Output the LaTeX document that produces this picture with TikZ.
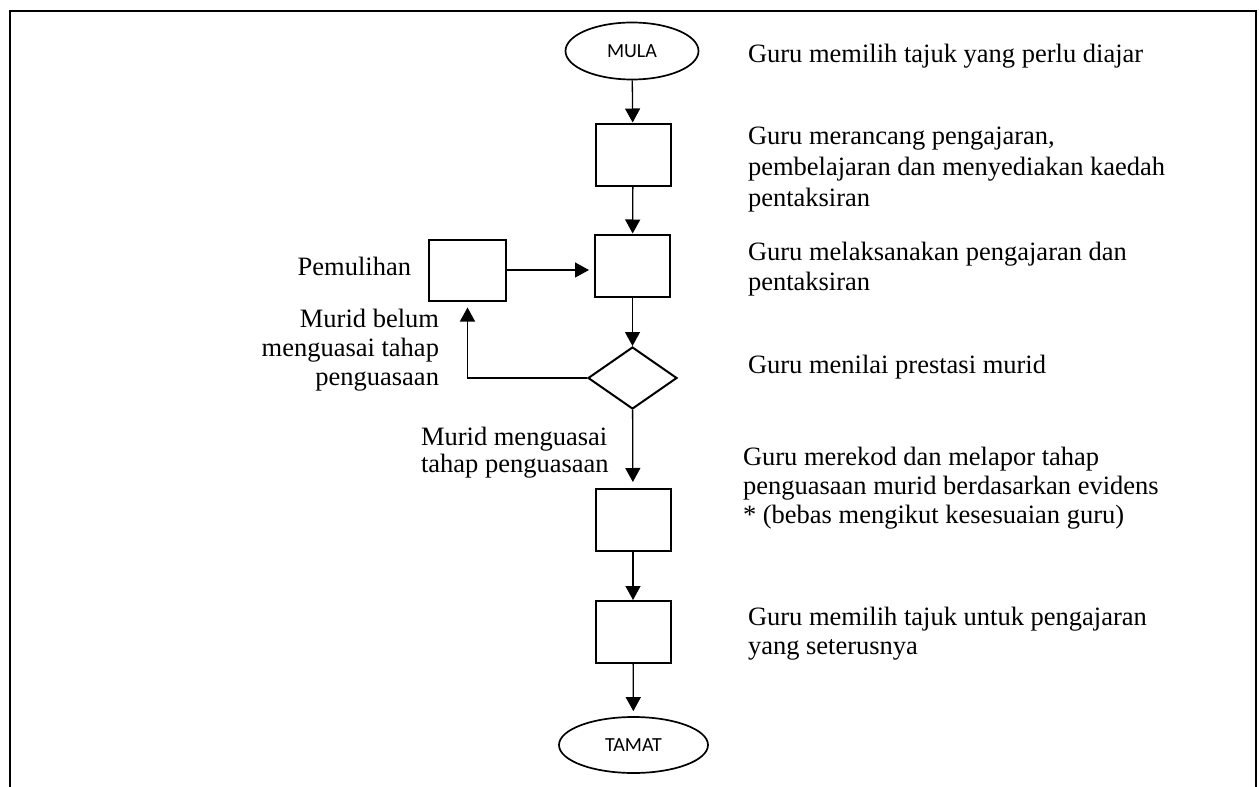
\documentclass[tikz,border=0pt]{standalone}
\usepackage{fontspec}
\setmainfont{Liberation Serif}
\newfontfamily\termfont{Carlito}
\usetikzlibrary{shapes.geometric,arrows.meta}

\tikzset{
  x=1pt, y=-1pt,
  stepbox/.style={draw, line width=2pt, minimum width=75pt, minimum height=62pt, inner sep=0pt},
  terminal/.style={draw, ellipse, line width=1.7pt, inner sep=0pt, font=\termfont\fontsize{20}{24}\selectfont},
  decision/.style={draw, diamond, line width=2pt, minimum width=89pt, minimum height=62pt, inner sep=0pt},
  flow/.style={line width=1.3pt, -{Triangle[length=14pt,width=15pt]}},
  note/.style={inner sep=0pt, outer sep=0pt, font=\fontsize{26.5}{30}\selectfont},
  frame/.style={line width=2.5pt}
}

\begin{document}
\begin{tikzpicture}
\useasboundingbox (0,0) rectangle (1259,787);

% open frame around the flowchart
\coordinate (fbl) at (10,790);
\coordinate (ftl) at (10,11);
\coordinate (ftr) at (1256,11);
\coordinate (fbr) at (1256,790);
\draw[frame] (fbl) -- (ftl) -- (ftr) -- (fbr);

% flowchart nodes
\node[terminal, minimum width=133pt, minimum height=57pt] (mula) at (632,51) {MULA};
\node[stepbox] (plan) at (633,154.5) {};
\node[stepbox] (teach) at (632.5,265.5) {};
\node[stepbox, minimum width=77pt, minimum height=61pt] (remedy) at (467.5,270) {};
\node[decision] (assess) at (632.5,378) {};
\node[stepbox] (record) at (633,520) {};
\node[stepbox] (next) at (633,632) {};
\node[terminal, minimum width=149pt, minimum height=56pt] (tamat) at (633.5,745) {TAMAT};

% connectors
\draw[flow] (mula) -- (plan);
\draw[flow] (plan) -- (teach);
\draw[flow, shorten >=5pt] (remedy.east) -- (remedy.east -| teach.west);
\draw[flow] (teach) -- (assess);
\draw[flow, shorten >=6pt] (assess.west) -| (remedy.south);
\draw[flow, shorten >=6pt] (assess) -- (record);
\draw[flow] (record) -- (next);
\draw[flow, shorten >=5pt] (next) -- (tamat);

% step descriptions (multi-line texts are placed by their last baseline)
\node[note, anchor=base west] (d1) at (748,62) {Guru memilih tajuk yang perlu diajar};
\node[note, anchor=base west, align=left, font=\fontsize{26.5}{31}\selectfont] (d2) at (748,206) {Guru merancang pengajaran,\\pembelajaran dan menyediakan kaedah\\pentaksiran};
\node[note, anchor=base west, align=left] (d3) at (748,290) {Guru melaksanakan pengajaran dan\\pentaksiran};
\node[note, anchor=base west] (d4) at (748,373) {Guru menilai prestasi murid};
\node[note, anchor=base west, align=left, font=\fontsize{26.5}{29}\selectfont] (d5) at (743,523) {Guru merekod dan melapor tahap\\penguasaan murid berdasarkan evidens\\* (bebas mengikut kesesuaian guru)};
\node[note, anchor=base west, align=left, font=\fontsize{26.5}{29}\selectfont] (d6) at (748,654) {Guru memilih tajuk untuk pengajaran\\yang seterusnya};

% branch labels
\node[note, anchor=base east] (lremedy) at (411,275) {Pemulihan};
\node[note, anchor=base east, align=right, font=\fontsize{26.5}{29}\selectfont] (lnot) at (439,385) {Murid belum\\menguasai tahap\\penguasaan};
\node[note, anchor=base west, align=left, font=\fontsize{26.5}{27}\selectfont] (lyes) at (421,472) {Murid menguasai\\tahap penguasaan};
\end{tikzpicture}
\end{document}
